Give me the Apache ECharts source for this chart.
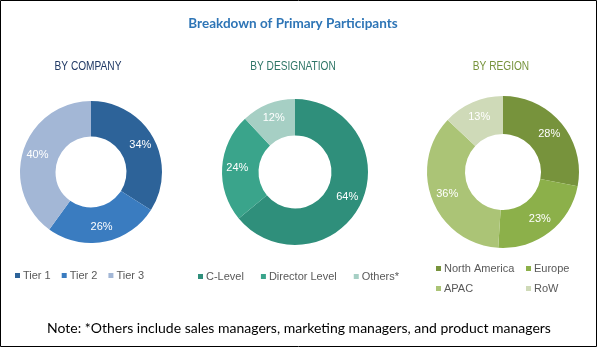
<!DOCTYPE html>
<html><head><meta charset="utf-8">
<script src="https://cdn.jsdelivr.net/npm/echarts@6/dist/echarts.min.js"></script>
<style>html,body{margin:0;padding:0;background:#fff}#c{width:597px;height:347px}</style>
</head><body><div id="c"></div>
<script>
const companyCats = ['Tier 1','Tier 2','Tier 3'];
const companyVals = [34,26,40];
const designationCats = ['C-Level','Director Level','Others*'];
const designationVals = [64,24,12];
const regionCats = ['North America','Europe','APAC','RoW'];
const regionVals = [28,23,36,13];

const companyColors = ['#2d6399','#3a7cc0','#a3b7d6'];
const designationColors = ['#2f8f7b','#3aa48b','#a6cfc4'];
const regionColors = ['#77933c','#8cb04a','#abc476','#cfdab8'];

const chart = echarts.init(document.getElementById('c'), null, {renderer:'canvas'});
const legFont = {fontFamily:'Liberation Sans, Arial, sans-serif', fontSize:11, color:'#595959'};

function pie(name, cats, vals, colors, cx, cy, r){
  return {
    type:'pie', name, center:[cx,cy], radius:[r*0.5, r], startAngle:90, clockwise:true,
    avoidLabelOverlap:false, silent:true,
    label:{show:true, position:'inside', formatter:'{c}%', color:'#fff', fontSize:11, fontFamily:'Liberation Sans, Arial, sans-serif'},
    labelLine:{show:false},
    itemStyle:{borderWidth:0},
    emphasis:{disabled:true},
    data: cats.map((c,i)=>({name:c, value:vals[i], itemStyle:{color:colors[i]}}))
  };
}
function leg(names, left, top, gap){
  return {data:names, left, top, orient:'horizontal', icon:'rect', itemWidth:5, itemHeight:5, itemGap:gap, textStyle:Object.assign({padding:[0,0,0,-2]},legFont), selectedMode:false};
}
function sub(text, x, color){
  return {type:'text', x, y:66, scaleX:0.78, scaleY:1, silent:true,
    style:{text, fill:color, font:'13px "Liberation Sans", Arial, sans-serif', align:'center', verticalAlign:'middle'}};
}

chart.setOption({
  animation:false,
  title:[
    {text:'Breakdown of Primary Participants', left:288, top:12, textAlign:'center', textStyle:{fontFamily:'Lato, sans-serif', fontWeight:'bold', fontSize:13.5, color:'#2e75b6'}},
    {text:'Note: *Others include sales managers, marketing managers, and product managers', left:294, top:316, textAlign:'center', textStyle:{fontFamily:'Lato, sans-serif', fontWeight:'normal', fontSize:14, color:'#000'}}
  ],
  legend:[
    leg(companyCats, 10, 265, 11),
    leg(designationCats, 193, 266, 17),
    leg([regionCats[0]], 431, 258, 8),
    leg([regionCats[1]], 521, 258, 8),
    leg([regionCats[2]], 431, 278, 8),
    leg([regionCats[3]], 521, 278, 8)
  ],
  series:[
    pie('company', companyCats, companyVals, companyColors, 91, 172, 71),
    pie('designation', designationCats, designationVals, designationColors, 295, 172, 73),
    pie('region', regionCats, regionVals, regionColors, 503, 172, 76)
  ],
  graphic:[
    sub('BY COMPANY', 88, '#1f3864'),
    sub('BY DESIGNATION', 293, '#2e7566'),
    sub('BY REGION', 501, '#77933c'),
    {type:'rect', shape:{x:0.5,y:0.5,width:596,height:346}, style:{fill:null, stroke:'#000', lineWidth:1}}
  ]
});
</script></body></html>
